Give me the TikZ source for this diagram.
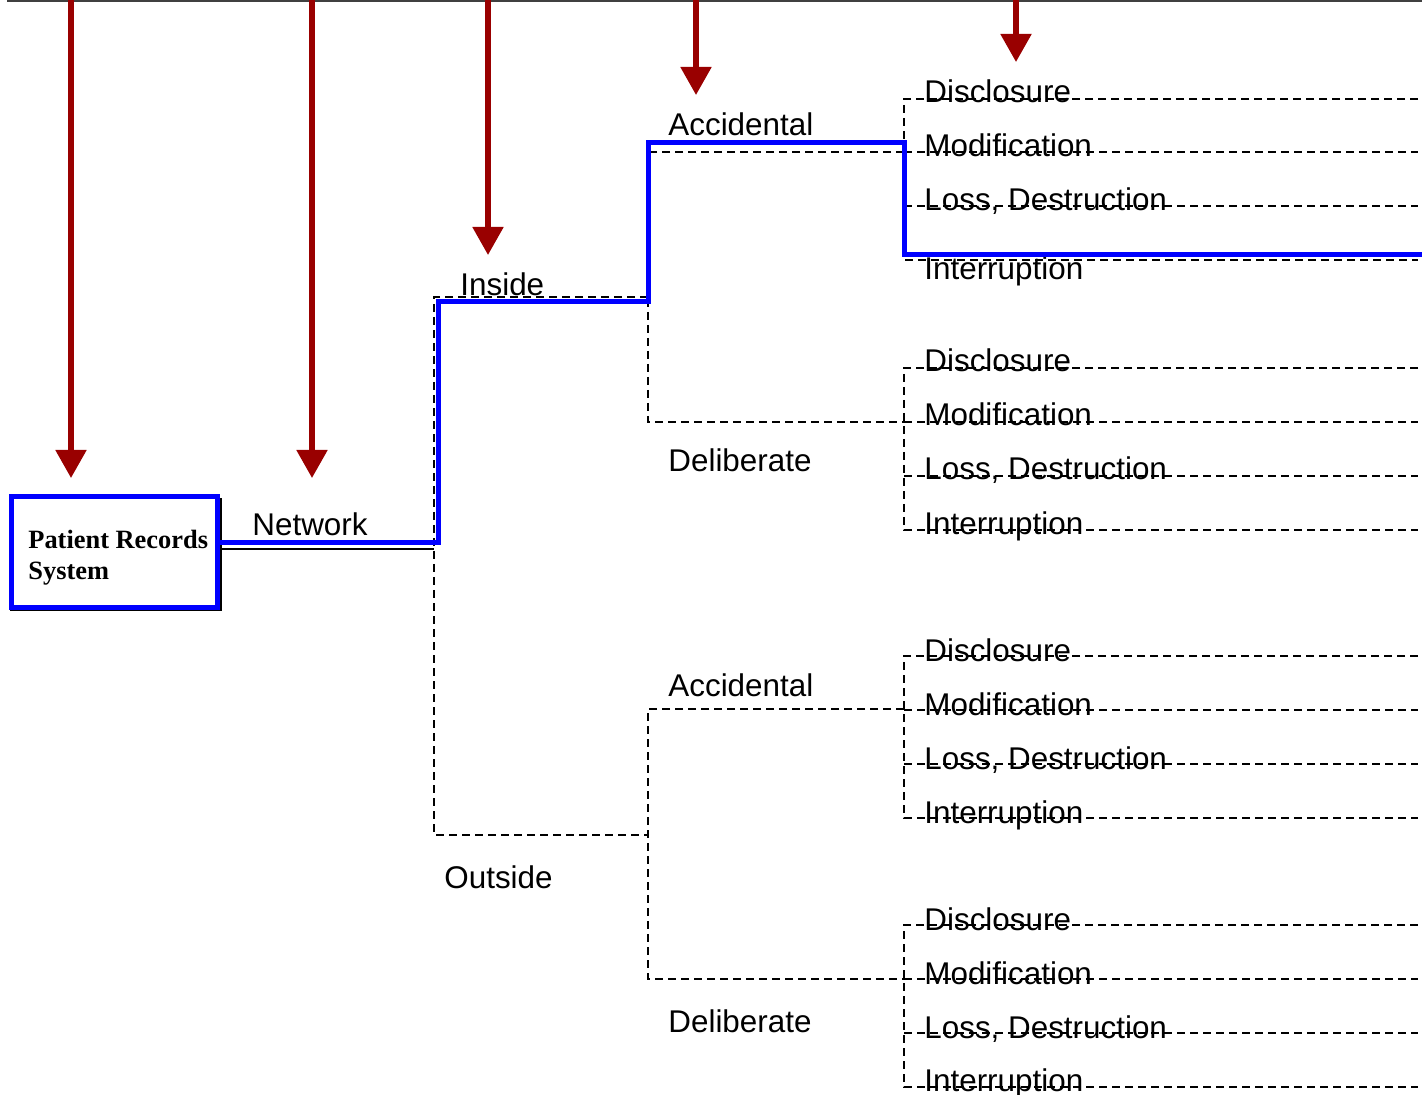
\documentclass[tikz,border=0pt]{standalone}
\usepackage{fontspec}
\setmainfont{Liberation Sans}
\newfontfamily\serifbf{Liberation Serif}
\usetikzlibrary{arrows.meta}
\definecolor{darkred}{HTML}{990000}
\definecolor{pathblue}{HTML}{0000FF}
\begin{document}
\begin{tikzpicture}[x=0.5pt,y=-0.5pt,
  lbl/.style={anchor=base west,inner sep=0pt,font=\fontsize{15.7}{18}\selectfont},
  dsh/.style={draw=black,line width=0.8pt,dash pattern=on 4pt off 2.5pt},
  riskarrow/.style={draw=darkred,line width=2.6pt,-{Triangle[length=14pt,width=15pt]}},
  bluepath/.style={draw=pathblue,line width=2.5pt,line join=miter}]
\useasboundingbox (0,0) rectangle (1422,1095);
% top line
\draw[line width=0.8pt,black!75] (7,1) -- (1422,1);
% box
\draw[black,line width=0.7pt] (11,499) rectangle (221,610);
\node[draw=pathblue,fill=white,line width=2.5pt,minimum width=103pt,minimum height=55.5pt,anchor=north west,inner sep=0pt] (box) at (9,494) {};
\node[anchor=base west,inner sep=0pt,align=left,font=\serifbf\bfseries\fontsize{13.2}{16}\selectfont] (boxtxt) at (28,580) {Patient Records\\System};
% named coordinates
\coordinate (net0) at (221,549);
\coordinate (net1) at (434,549);
\coordinate (inA) at (434,297);
\coordinate (inB) at (648,297);
\coordinate (outA) at (434,835);
\coordinate (outB) at (648,835);
% network connector
\draw[black,line width=0.7pt] (net0) -- (net1);
\draw[dsh] (inB) -- (inA) -- (outA) -- (outB);
% second level: inside
\coordinate (iaA) at (648,152); \coordinate (iaB) at (904,152);
\coordinate (idA) at (648,422); \coordinate (idB) at (904,422);
\draw[dsh] (iaB) -- (iaA) -- (idA) -- (idB);
% outside
\coordinate (oaA) at (648,709); \coordinate (oaB) at (904,709);
\coordinate (odA) at (648,979); \coordinate (odB) at (904,979);
\draw[dsh] (oaB) -- (oaA) -- (odA) -- (odB);
% leaf groups
\foreach \g/\ya/\yb/\yc/\yd in {1/99/152/206/260, 2/368/422/476/530, 3/656/710/764/818, 4/925/979/1033/1087}{
  \coordinate (g\g a) at (904,\ya); \coordinate (g\g d) at (904,\yd);
  \draw[dsh] (1418,\ya) -- (g\g a) -- (g\g d) -- (1418,\yd);
  \draw[dsh] (904,\yb) -- (1418,\yb);
  \draw[dsh] (904,\yc) -- (1418,\yc);
}
% leaf labels
\foreach \g/\ya/\yb/\yc/\yd in {1/103/157/211/280, 2/372/426/480/535, 3/661/715/769/823, 4/930/984/1038/1091}{
  \node[lbl] (dis\g) at (924,\ya) {Disclosure};
  \node[lbl] (mod\g) at (924,\yb) {Modification};
  \node[lbl] (los\g) at (924,\yc) {Loss, Destruction};
  \node[lbl] (int\g) at (924,\yd) {Interruption};
}
% branch labels
\node[lbl] (network) at (252,536) {Network};
\node[lbl] (inside) at (460,296) {Inside};
\node[lbl] (outside) at (444,888) {Outside};
\node[lbl] (acc1) at (668,136) {Accidental};
\node[lbl] (del1) at (668,472) {Deliberate};
\node[lbl] (acc2) at (668,696) {Accidental};
\node[lbl] (del2) at (668,1032) {Deliberate};
% blue path
\draw[bluepath] (box.east |- 0,543) -- (438,543) -- (438,302) -- (648,302) -- (648,143) -- (904,143) -- (904,255) -- (1422,255);
% red arrows
\coordinate (t1) at (71,0); \coordinate (h1) at (71,478);
\coordinate (t2) at (312,0); \coordinate (h2) at (312,478);
\coordinate (t3) at (488,0); \coordinate (h3) at (488,255);
\coordinate (t4) at (696,0); \coordinate (h4) at (696,95);
\coordinate (t5) at (1016,0); \coordinate (h5) at (1016,62);
\foreach \i in {1,...,5}{\draw[riskarrow] (t\i) -- (h\i);}
\end{tikzpicture}
\end{document}
